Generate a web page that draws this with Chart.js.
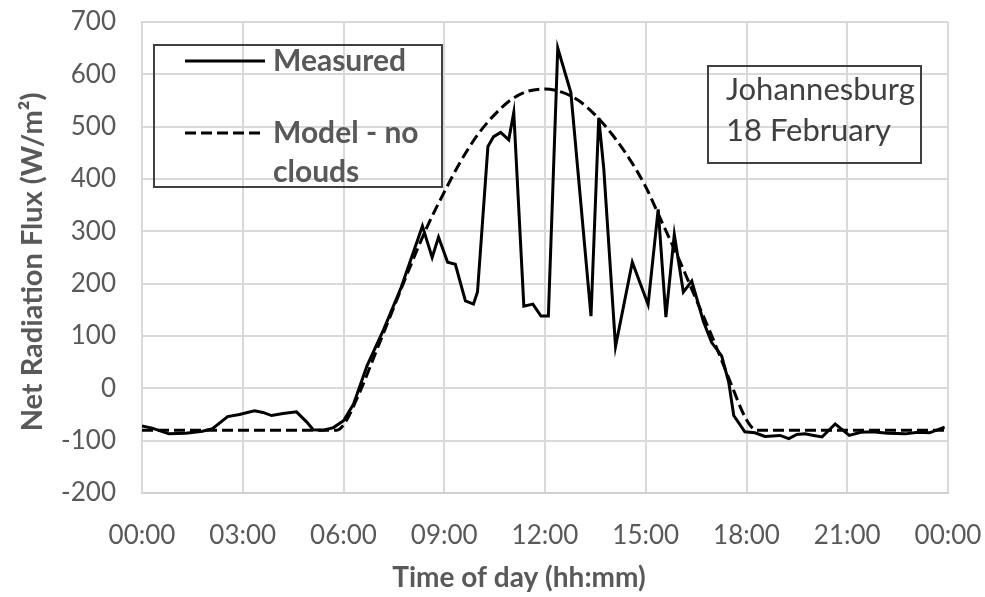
<!DOCTYPE html>
<html>
<head>
<meta charset="utf-8">
<script src="https://cdn.jsdelivr.net/npm/chart.js@4.4.0/dist/chart.umd.min.js"></script>
<style>
  html, body { margin: 0; padding: 0; background: #fff; }
  #wrap { width: 985px; height: 597px; }
</style>
</head>
<body>
<div id="wrap"><canvas id="chart" width="985" height="597"></canvas></div>
<script>
// time of day in hours, flux in W/m2
const measuredTime = [0.0, 0.3, 0.8, 1.3, 1.8, 2.1, 2.55, 2.9, 3.35, 3.6, 3.86, 4.2, 4.6, 4.9, 5.1, 5.4, 5.7, 6.0, 6.3,
  6.7, 7.2, 7.7, 8.08, 8.35, 8.5, 8.64, 8.83, 9.1, 9.33, 9.63, 9.87, 9.99, 10.3, 10.47, 10.68, 10.92, 11.07,
  11.37, 11.64, 11.88, 12.1, 12.38, 12.77, 13.37, 13.6, 13.75, 14.1, 14.6, 15.07, 15.37, 15.6, 15.85, 16.12,
  16.37, 16.72, 16.96, 17.26, 17.47, 17.62, 17.95, 18.25, 18.55, 19.0, 19.26, 19.5, 19.74, 20.0, 20.25, 20.64,
  21.06, 21.4, 21.75, 22.2, 22.73, 23.1, 23.45, 23.9]
const measuredFlux = [-72, -76, -87, -86, -82, -77, -54, -50, -43, -46, -52, -48, -45, -64, -79, -80, -75, -62, -30,
  43, 113, 190, 260, 310, 279, 250, 289, 241, 237, 167, 161, 184, 462, 481, 489, 475, 527,
  157, 161, 138, 138, 650, 565, 138, 517, 420, 80, 241, 160, 342, 136, 294, 184,
  205, 127, 88, 62, 12, -52, -83, -85, -92, -90, -96, -88, -87, -90, -93, -68,
  -90, -84, -83, -86, -87, -84, -85, -74]

const modelTime = [0, 5.8, 6.0, 6.5, 7, 7.5, 8, 8.5, 9, 9.5, 10, 10.5, 11, 11.5, 12, 12.5, 13, 13.5, 14, 14.5,
  15, 15.5, 16, 16.5, 17, 17.5, 18, 18.3, 24]
const modelFlux = [-80, -80, -70, -5, 75, 155, 235, 310, 375, 435, 485, 523, 552, 568, 572, 566, 550, 522, 485, 440,
  385, 315, 245, 170, 95, 15, -60, -80, -80]

const xTicks = [0, 3, 6, 9, 12, 15, 18, 21, 24]
const yMin = -200, yMax = 700, yStep = 100

const textGrey = '#595959'

function pts (xs, ys) {
  return xs.map((x, i) => ({ x: x, y: ys[i] }))
}

// legend box, place/date note and both axis titles (placed like the Excel original)
const boxes = {
  id: 'boxes',
  afterDatasetsDraw (chart) {
    const c = chart.ctx
    const a = chart.chartArea
    c.save()
    c.lineWidth = 2
    c.strokeStyle = '#404040'
    // legend
    const lx = a.left + 12, ly = a.top + 23
    c.strokeRect(lx, ly, 288, 142)
    c.strokeStyle = '#000'
    c.lineWidth = 3
    c.beginPath(); c.moveTo(lx + 31, ly + 16); c.lineTo(lx + 111, ly + 16); c.stroke()
    c.setLineDash([11, 5])
    c.beginPath(); c.moveTo(lx + 31, ly + 88); c.lineTo(lx + 111, ly + 88); c.stroke()
    c.setLineDash([])
    c.fillStyle = textGrey
    c.font = 'bold 30px Lato'
    c.textBaseline = 'middle'
    c.fillText('Measured', lx + 119, ly + 16)
    c.fillText('Model - no', lx + 119, ly + 88)
    c.fillText('clouds', lx + 119, ly + 127)
    // note box
    const nx = a.left + 566, ny = a.top + 44
    c.strokeStyle = '#404040'
    c.lineWidth = 2
    c.strokeRect(nx, ny, 213, 97)
    c.fillStyle = '#404040'
    c.font = '31px Lato'
    c.fillText('Johannesburg', nx + 18, ny + 24)
    c.fillText('18 February', nx + 18, ny + 65)
    // axis titles
    c.fillStyle = textGrey
    c.font = 'bold 28px Lato'
    c.textAlign = 'center'
    c.fillText('Time of day (hh:mm)', 519, 578)
    c.translate(33, 262)
    c.rotate(-Math.PI / 2)
    c.font = 'bold 29px Lato'
    c.fillText('Net Radiation Flux (W/m²)', 0, 0)
    c.restore()
  }
}

new Chart(document.getElementById('chart'), {
  type: 'line',
  data: {
    datasets: [
      {
        label: 'Model - no clouds',
        data: pts(modelTime, modelFlux),
        borderColor: '#000',
        borderWidth: 3,
        borderDash: [11, 5],
        pointRadius: 0,
        cubicInterpolationMode: 'monotone',
        fill: false
      },
      {
        label: 'Measured',
        data: pts(measuredTime, measuredFlux),
        borderColor: '#000',
        borderWidth: 3,
        pointRadius: 0,
        tension: 0,
        fill: false
      }
    ]
  },
  options: {
    responsive: false,
    animation: false,
    layout: { padding: { left: 0, right: 37, top: 22, bottom: 0 } },
    plugins: {
      legend: { display: false },
      tooltip: { enabled: false }
    },
    scales: {
      x: {
        type: 'linear',
        min: 0,
        max: 24,
        afterBuildTicks: s => { s.ticks = xTicks.map(v => ({ value: v })) },
        afterFit: s => {
          s.height = 104
          s.paddingLeft = 0
          s.paddingRight = 0
        },
        ticks: {
          padding: 27,
          color: textGrey,
          font: { family: 'Lato', size: 26 },
          maxRotation: 0,
          callback: v => String(v % 24).padStart(2, '0') + ':00'
        },
        grid: { color: '#d9d9d9', lineWidth: 2, drawTicks: false },
        border: { color: '#d0d0d0', width: 2 }
      },
      y: {
        min: yMin,
        max: yMax,
        afterFit: s => {
          s.width = 142
          s.paddingTop = 0
          s.paddingBottom = 0
        },
        ticks: {
          stepSize: yStep,
          padding: 26,
          color: textGrey,
          font: { family: 'Lato', size: 26 }
        },
        grid: { color: '#d9d9d9', lineWidth: 2, drawTicks: false },
        border: { color: '#d9d9d9', width: 2 }
      }
    }
  },
  plugins: [boxes]
})
</script>
</body>
</html>
